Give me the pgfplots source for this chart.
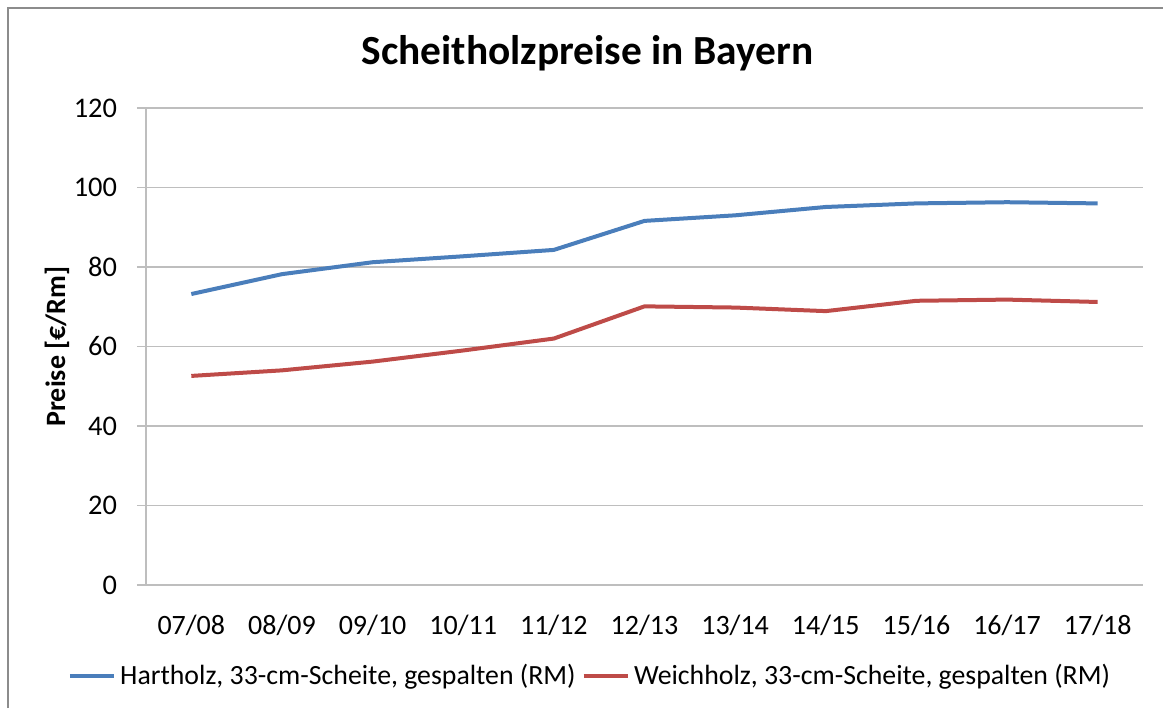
\documentclass[border=0pt]{standalone}
\usepackage{fontspec}
\setmainfont{Carlito}
\usepackage{pgfplots}
\pgfplotsset{compat=1.18}

\definecolor{hart}{HTML}{4A7EBB}
\definecolor{weich}{HTML}{BE4B48}
\definecolor{gridgray}{HTML}{BEBEBE}
\definecolor{framegray}{HTML}{8C8C8C}

\begin{document}
\begin{tikzpicture}
\begin{axis}[
  scale only axis,
  width=498.5pt, height=238.5pt,
  xmin=-0.5, xmax=10.5, ymin=0, ymax=120,
  axis x line=bottom, axis y line=left,
  axis line style={gridgray, line width=0.8pt, -},
  xtick={0,...,10},
  xticklabels={07/08,08/09,09/10,10/11,11/12,12/13,13/14,14/15,15/16,16/17,17/18},
  x tick label style={font=\fontsize{14}{16}\selectfont, yshift=-7pt},
  extra x ticks={-0.5,0.5,...,10.5},
  extra x tick labels={},
  extra x tick style={grid=none, major tick length=5pt, tick style={gridgray, line width=0.8pt}},
  ytick={0,20,...,120},
  ymajorgrids,
  grid style={gridgray, line width=0.8pt},
  y tick label style={font=\fontsize{14.2}{16}\selectfont, xshift=-6.5pt},
  x tick style={draw=none},
  y tick style={gridgray, line width=0.8pt},
  tick align=outside,
  major tick length=4.5pt,
  /pgf/number format/assume math mode=true,
  ylabel={\textbf{Preise [€/Rm]}},
  ylabel style={at={(axis description cs:-0.0893,0.5)}, anchor=center,
    font=\fontsize{14}{16}\selectfont},
  legend columns=2,
  legend style={draw=none, fill=none, font=\fontsize{13.9}{16}\selectfont,
    at={(axis description cs:0.4463,-0.1908)}, anchor=center,
    /tikz/every even column/.append style={column sep=1pt}},
  legend image code/.code={\draw[#1, line width=2pt] (0cm,0cm) -- (0.78cm,0cm);},
  clip=false,
]
\addplot[hart, line width=2pt] coordinates {
  (0,73.2) (1,78.2) (2,81.2) (3,82.7) (4,84.3) (5,91.6)
  (6,93.0) (7,95.1) (8,96.0) (9,96.3) (10,96.0)
};
\addlegendentry{Hartholz, 33-cm-Scheite, gespalten (RM)}
\addplot[weich, line width=2pt] coordinates {
  (0,52.6) (1,54.0) (2,56.2) (3,59.0) (4,62.0) (5,70.1)
  (6,69.8) (7,68.9) (8,71.5) (9,71.8) (10,71.2)
};
\addlegendentry{Weichholz, 33-cm-Scheite, gespalten (RM)}
\node[font=\fontsize{20.7}{24}\selectfont\bfseries, anchor=center]
  at (axis description cs:0.4428,1.115) {Scheitholzpreise in Bayern};
\end{axis}
\path[use as bounding box] (-73pt,-61.5pt) rectangle (508.5pt,292.5pt);
\draw[framegray, line width=1pt] (-69pt,-61.5pt) -- (-69pt,288.5pt) -- (508.5pt,288.5pt);
\end{tikzpicture}
\end{document}
